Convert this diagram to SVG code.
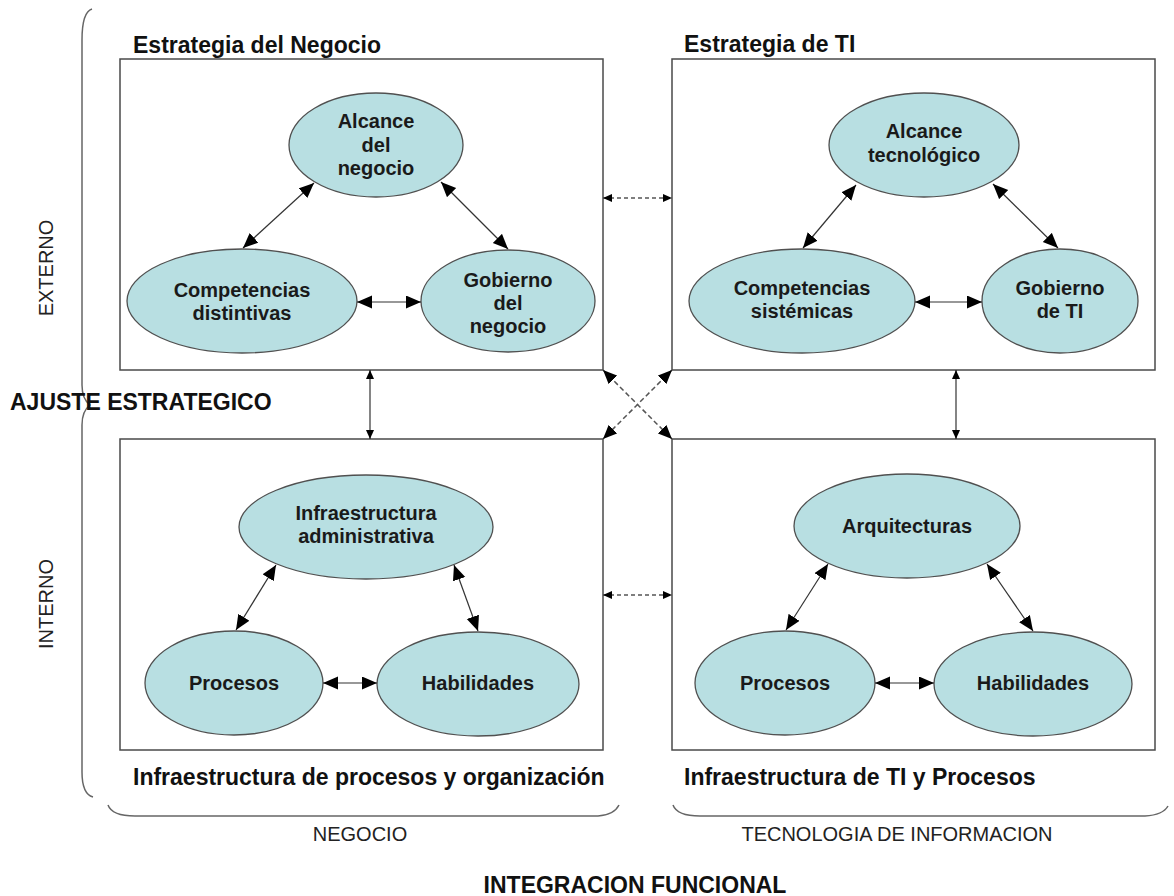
<svg xmlns="http://www.w3.org/2000/svg" width="1174" height="896" viewBox="0 0 1174 896">
  <style>
    .frame { fill: #ffffff; stroke: #4a4a4a; stroke-width: 1.5; }
    .oval { fill: #b8dfe2; stroke: #505050; stroke-width: 1.3; }
    .lbl { font-family: "Liberation Sans", Arial, sans-serif; font-weight: bold; font-size: 20px; fill: #1a1a1a; text-anchor: middle; }
    .title { font-family: "Liberation Sans", Arial, sans-serif; font-weight: bold; font-size: 23px; fill: #111111; }
    .axis { font-family: "Liberation Sans", Arial, sans-serif; font-size: 20px; fill: #222222; text-anchor: middle; }
    .link { fill: none; stroke: #333333; stroke-width: 1.2; marker-start: url(#head); marker-end: url(#head); }
    .bridge { fill: none; stroke: #333333; stroke-width: 1.2; marker-start: url(#small); marker-end: url(#small); }
    .dash { fill: none; stroke: #555555; stroke-width: 1.5; stroke-dasharray: 4 3; marker-start: url(#small); marker-end: url(#small); }
    .cross { fill: none; stroke: #555555; stroke-width: 1.5; stroke-dasharray: 5 3; marker-start: url(#mid); marker-end: url(#mid); }
    .brace { fill: none; stroke: #666666; stroke-width: 1.5; }
  </style>
  <defs>
    <marker id="head" markerUnits="userSpaceOnUse" markerWidth="16" markerHeight="14" refX="15" refY="6.5" orient="auto-start-reverse">
      <path d="M0,0 L15,6.5 L0,13 z" fill="#000000"/>
    </marker>
    <marker id="mid" markerUnits="userSpaceOnUse" markerWidth="15" markerHeight="13" refX="14" refY="6" orient="auto-start-reverse">
      <path d="M0,0 L14,6 L0,12 z" fill="#000000"/>
    </marker>
    <marker id="small" markerUnits="userSpaceOnUse" markerWidth="10" markerHeight="10" refX="9" refY="4" orient="auto-start-reverse">
      <path d="M0,0 L9,4 L0,8 z" fill="#000000"/>
    </marker>
  </defs>

  <rect width="1174" height="896" fill="#ffffff"/>

  <!-- axis braces and axis labels -->
  <g id="axes">
    <path class="brace" d="M92,9 Q82,12 82,40 L82,385 Q82,399 90,405 Q82,411 82,425 L82,772 Q82,794 93,797"/>
    <path class="brace" d="M108,805 Q112,816 135,816 L598,816 Q614,815 619,805"/>
    <path class="brace" d="M673,805 Q677,816 700,816 L1145,816 Q1163,815 1168,806"/>
    <text class="axis" transform="translate(53,268) rotate(-90)">EXTERNO</text>
    <text class="axis" transform="translate(53,604) rotate(-90)">INTERNO</text>
    <text class="title" x="10" y="410">AJUSTE ESTRATEGICO</text>
    <text class="axis" x="360" y="841">NEGOCIO</text>
    <text class="axis" x="897" y="841">TECNOLOGIA DE INFORMACION</text>
    <text class="title" x="635" y="893" text-anchor="middle">INTEGRACION FUNCIONAL</text>
  </g>

  <!-- Estrategia del Negocio -->
  <g id="estrategia-negocio">
    <text class="title" x="133" y="53">Estrategia del Negocio</text>
    <rect class="frame" x="120" y="59" width="483" height="311"/>
    <g id="alcance-negocio">
      <ellipse class="oval" cx="376" cy="145" rx="87" ry="52"/>
      <text class="lbl" x="376" y="128">Alcance</text>
      <text class="lbl" x="376" y="152">del</text>
      <text class="lbl" x="376" y="175">negocio</text>
    </g>
    <g id="competencias-distintivas">
      <ellipse class="oval" cx="242" cy="301" rx="115" ry="52"/>
      <text class="lbl" x="242" y="297">Competencias</text>
      <text class="lbl" x="242" y="320">distintivas</text>
    </g>
    <g id="gobierno-negocio">
      <ellipse class="oval" cx="508" cy="301" rx="87" ry="51"/>
      <text class="lbl" x="508" y="287">Gobierno</text>
      <text class="lbl" x="508" y="310">del</text>
      <text class="lbl" x="508" y="333">negocio</text>
    </g>
  </g>

  <!-- Estrategia de TI -->
  <g id="estrategia-ti">
    <text class="title" x="684" y="52">Estrategia de TI</text>
    <rect class="frame" x="672" y="59" width="483" height="311"/>
    <g id="alcance-tecnologico">
      <ellipse class="oval" cx="924" cy="145" rx="95" ry="52"/>
      <text class="lbl" x="924" y="138">Alcance</text>
      <text class="lbl" x="924" y="162">tecnológico</text>
    </g>
    <g id="competencias-sistemicas">
      <ellipse class="oval" cx="802" cy="301" rx="113" ry="52"/>
      <text class="lbl" x="802" y="295">Competencias</text>
      <text class="lbl" x="802" y="318">sistémicas</text>
    </g>
    <g id="gobierno-ti">
      <ellipse class="oval" cx="1060" cy="301" rx="78" ry="52"/>
      <text class="lbl" x="1060" y="295">Gobierno</text>
      <text class="lbl" x="1060" y="318">de TI</text>
    </g>
  </g>

  <!-- Infraestructura de procesos y organización -->
  <g id="infra-organizacion">
    <rect class="frame" x="120" y="439" width="483" height="311"/>
    <text class="title" x="133" y="785">Infraestructura de procesos y organización</text>
    <g id="infra-administrativa">
      <ellipse class="oval" cx="366" cy="527" rx="127" ry="52"/>
      <text class="lbl" x="366" y="520">Infraestructura</text>
      <text class="lbl" x="366" y="543">administrativa</text>
    </g>
    <g id="procesos-negocio">
      <ellipse class="oval" cx="234" cy="683" rx="89" ry="52"/>
      <text class="lbl" x="234" y="690">Procesos</text>
    </g>
    <g id="habilidades-negocio">
      <ellipse class="oval" cx="478" cy="684" rx="101" ry="52"/>
      <text class="lbl" x="478" y="690">Habilidades</text>
    </g>
  </g>

  <!-- Infraestructura de TI y Procesos -->
  <g id="infra-ti">
    <rect class="frame" x="672" y="439" width="483" height="311"/>
    <text class="title" x="684" y="785">Infraestructura de TI y Procesos</text>
    <g id="arquitecturas">
      <ellipse class="oval" cx="907" cy="526" rx="113" ry="52"/>
      <text class="lbl" x="907" y="533">Arquitecturas</text>
    </g>
    <g id="procesos-ti">
      <ellipse class="oval" cx="785" cy="683" rx="90" ry="52"/>
      <text class="lbl" x="785" y="690">Procesos</text>
    </g>
    <g id="habilidades-ti">
      <ellipse class="oval" cx="1033" cy="684" rx="99" ry="52"/>
      <text class="lbl" x="1033" y="690">Habilidades</text>
    </g>
  </g>

  <!-- connectors -->
  <g id="connectors">
    <!-- inside Estrategia del Negocio -->
    <line class="link" x1="314" y1="183" x2="243" y2="248"/>
    <line class="link" x1="441" y1="182" x2="508" y2="249"/>
    <line class="link" x1="357" y1="302" x2="421" y2="302"/>
    <!-- inside Estrategia de TI -->
    <line class="link" x1="856" y1="185" x2="803" y2="248"/>
    <line class="link" x1="993" y1="184" x2="1058" y2="248"/>
    <line class="link" x1="915" y1="302" x2="982" y2="302"/>
    <!-- inside Infraestructura de procesos y organización -->
    <line class="link" x1="276" y1="565" x2="236" y2="630"/>
    <line class="link" x1="454" y1="565" x2="478" y2="631"/>
    <line class="link" x1="323" y1="683" x2="377" y2="683"/>
    <!-- inside Infraestructura de TI y Procesos -->
    <line class="link" x1="828" y1="564" x2="786" y2="630"/>
    <line class="link" x1="987" y1="564" x2="1033" y2="631"/>
    <line class="link" x1="875" y1="683" x2="934" y2="683"/>
    <!-- between quadrants -->
    <line class="bridge" x1="370" y1="370" x2="370" y2="439"/>
    <line class="bridge" x1="956" y1="370" x2="956" y2="439"/>
    <line class="dash" x1="603" y1="198" x2="672" y2="198"/>
    <line class="dash" x1="603" y1="595" x2="672" y2="595"/>
    <line class="cross" x1="603" y1="370" x2="672" y2="439"/>
    <line class="cross" x1="672" y1="370" x2="603" y2="439"/>
  </g>
</svg>
